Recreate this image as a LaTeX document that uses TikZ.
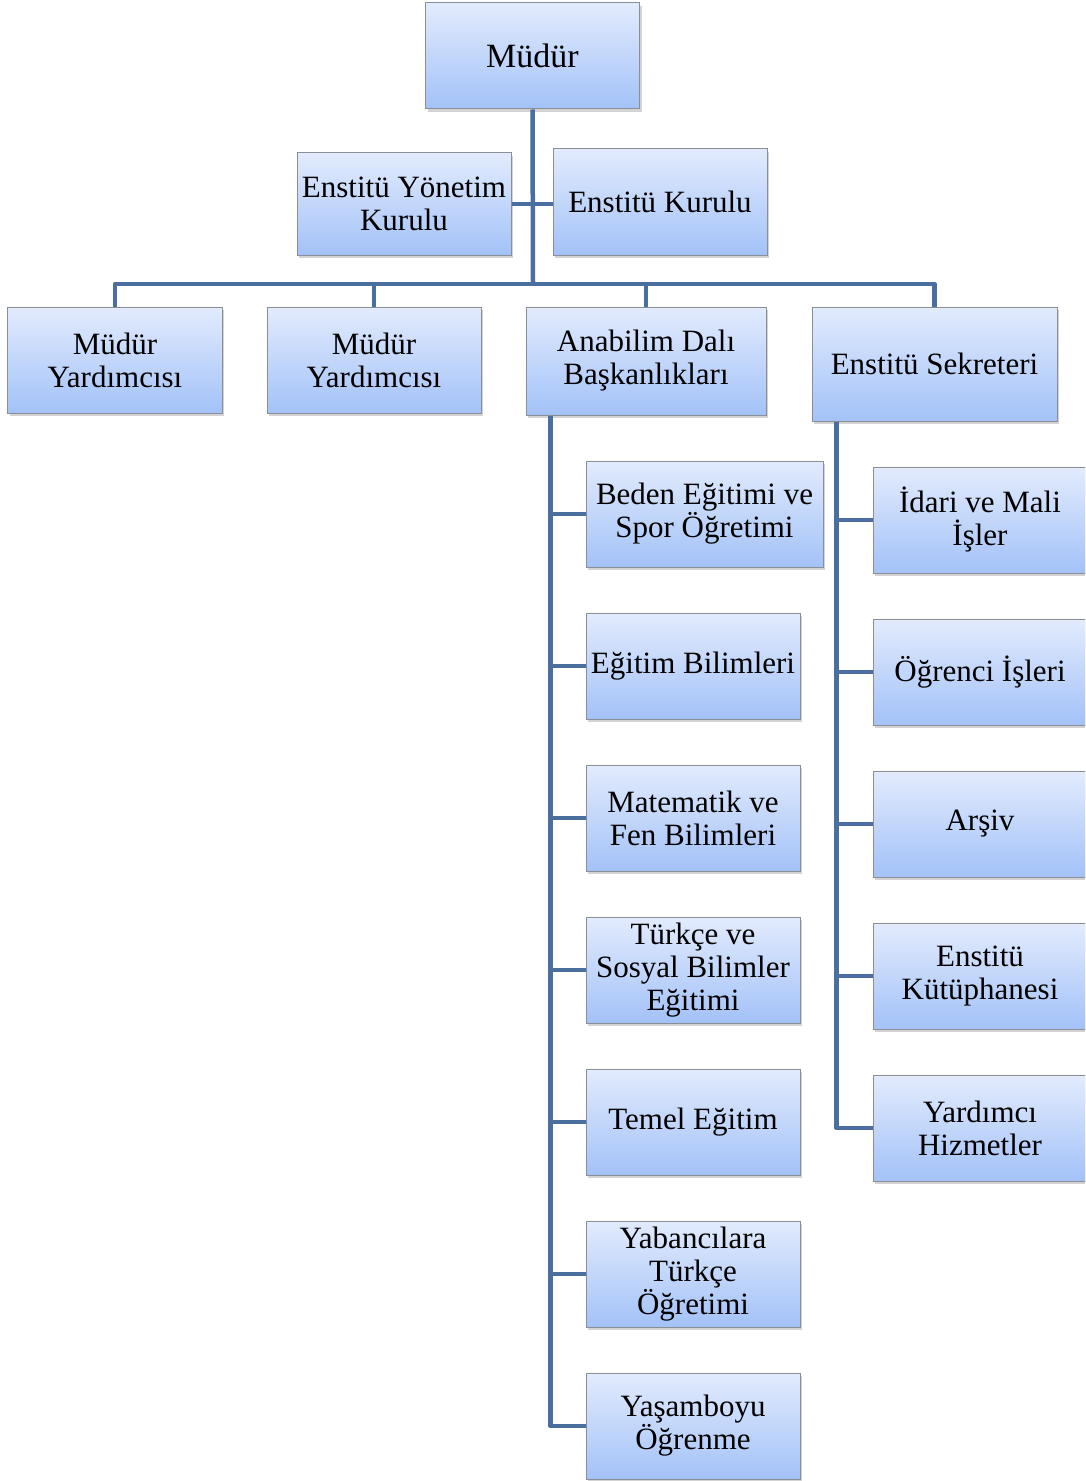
\documentclass[tikz,border=0pt]{standalone}
\usepackage{fontspec}
\setmainfont{Liberation Serif}
\usetikzlibrary{shadows}
\definecolor{boxtop}{HTML}{E2EBFD}
\definecolor{boxbot}{HTML}{A3C2F8}
\definecolor{boxline}{HTML}{8A8F96}
\definecolor{conn}{HTML}{4A6E9E}
\tikzset{
  box/.style={draw=boxline, line width=1bp, top color=boxtop, bottom color=boxbot,
    align=center, inner sep=1bp, minimum width=214bp, minimum height=106bp,
    font=\fontsize{31bp}{33bp}\selectfont,
    drop shadow={opacity=0.35, shadow xshift=2bp, shadow yshift=-3bp}},
  link/.style={draw=conn, line width=4.5bp, line join=round}
}
\begin{document}
\begin{tikzpicture}[x=1bp,y=-1bp]
\useasboundingbox (0,0) rectangle (1085,1481);
\clip (0,0) rectangle (1085,1481);
\coordinate (j1) at (533,284);
% boxes
\node[box, font=\fontsize{34bp}{36bp}\selectfont] (m) at (532.5,56) {Müdür};
\node[box, minimum height=102bp] (eyk) at (404,204) {Enstitü Yönetim\\Kurulu};
\node[box] (ek) at (660,202) {Enstitü Kurulu};
\node[box] (my1) at (115,360) {Müdür\\Yardımcısı};
\node[box] (my2) at (374,360) {Müdür\\Yardımcısı};
\node[box, minimum width=240bp, minimum height=108bp] (ab) at (646,361) {Anabilim Dalı\\Başkanlıkları};
\node[box, minimum width=245bp, minimum height=114bp] (es) at (934.5,364) {Enstitü Sekreteri};
% left children
\node[box, minimum width=237bp] (c1) at (704.5,514) {Beden Eğitimi ve\\Spor Öğretimi};
\node[box] (c2) at (693,666) {Eğitim Bilimleri};
\node[box] (c3) at (693,818) {Matematik ve\\Fen Bilimleri};
\node[box] (c4) at (693,970) {Türkçe ve\\Sosyal Bilimler\\Eğitimi};
\node[box] (c5) at (693,1122) {Temel Eğitim};
\node[box] (c6) at (693,1274) {Yabancılara\\Türkçe\\Öğretimi};
\node[box] (c7) at (693,1426) {Yaşamboyu\\Öğrenme};
% right children
\node[box] (r1) at (980,520) {İdari ve Mali\\İşler};
\node[box] (r2) at (980,672) {Öğrenci İşleri};
\node[box] (r3) at (980,824) {Arşiv};
\node[box] (r4) at (980,976) {Enstitü\\Kütüphanesi};
\node[box] (r5) at (980,1128) {Yardımcı\\Hizmetler};
% connectors
\coordinate (abl) at ([xshift=25bp]ab.south west);
\coordinate (esl) at ([xshift=25bp]es.south west);
\draw[link] (m.south) -- (j1);
\draw[link] (eyk.east) -- (ek.west |- eyk.east);
\draw[link] (my1.north) |- (j1) -| (es.north);
\draw[link] (my2.north) -- (my2.north |- j1);
\draw[link] (ab.north) -- (ab.north |- j1);
\foreach \c in {c1,c2,c3,c4,c5,c6,c7} \draw[link] (abl) |- (\c.west);
\foreach \c in {r1,r2,r3,r4,r5} \draw[link] (esl) |- (\c.west);
\end{tikzpicture}
\end{document}
